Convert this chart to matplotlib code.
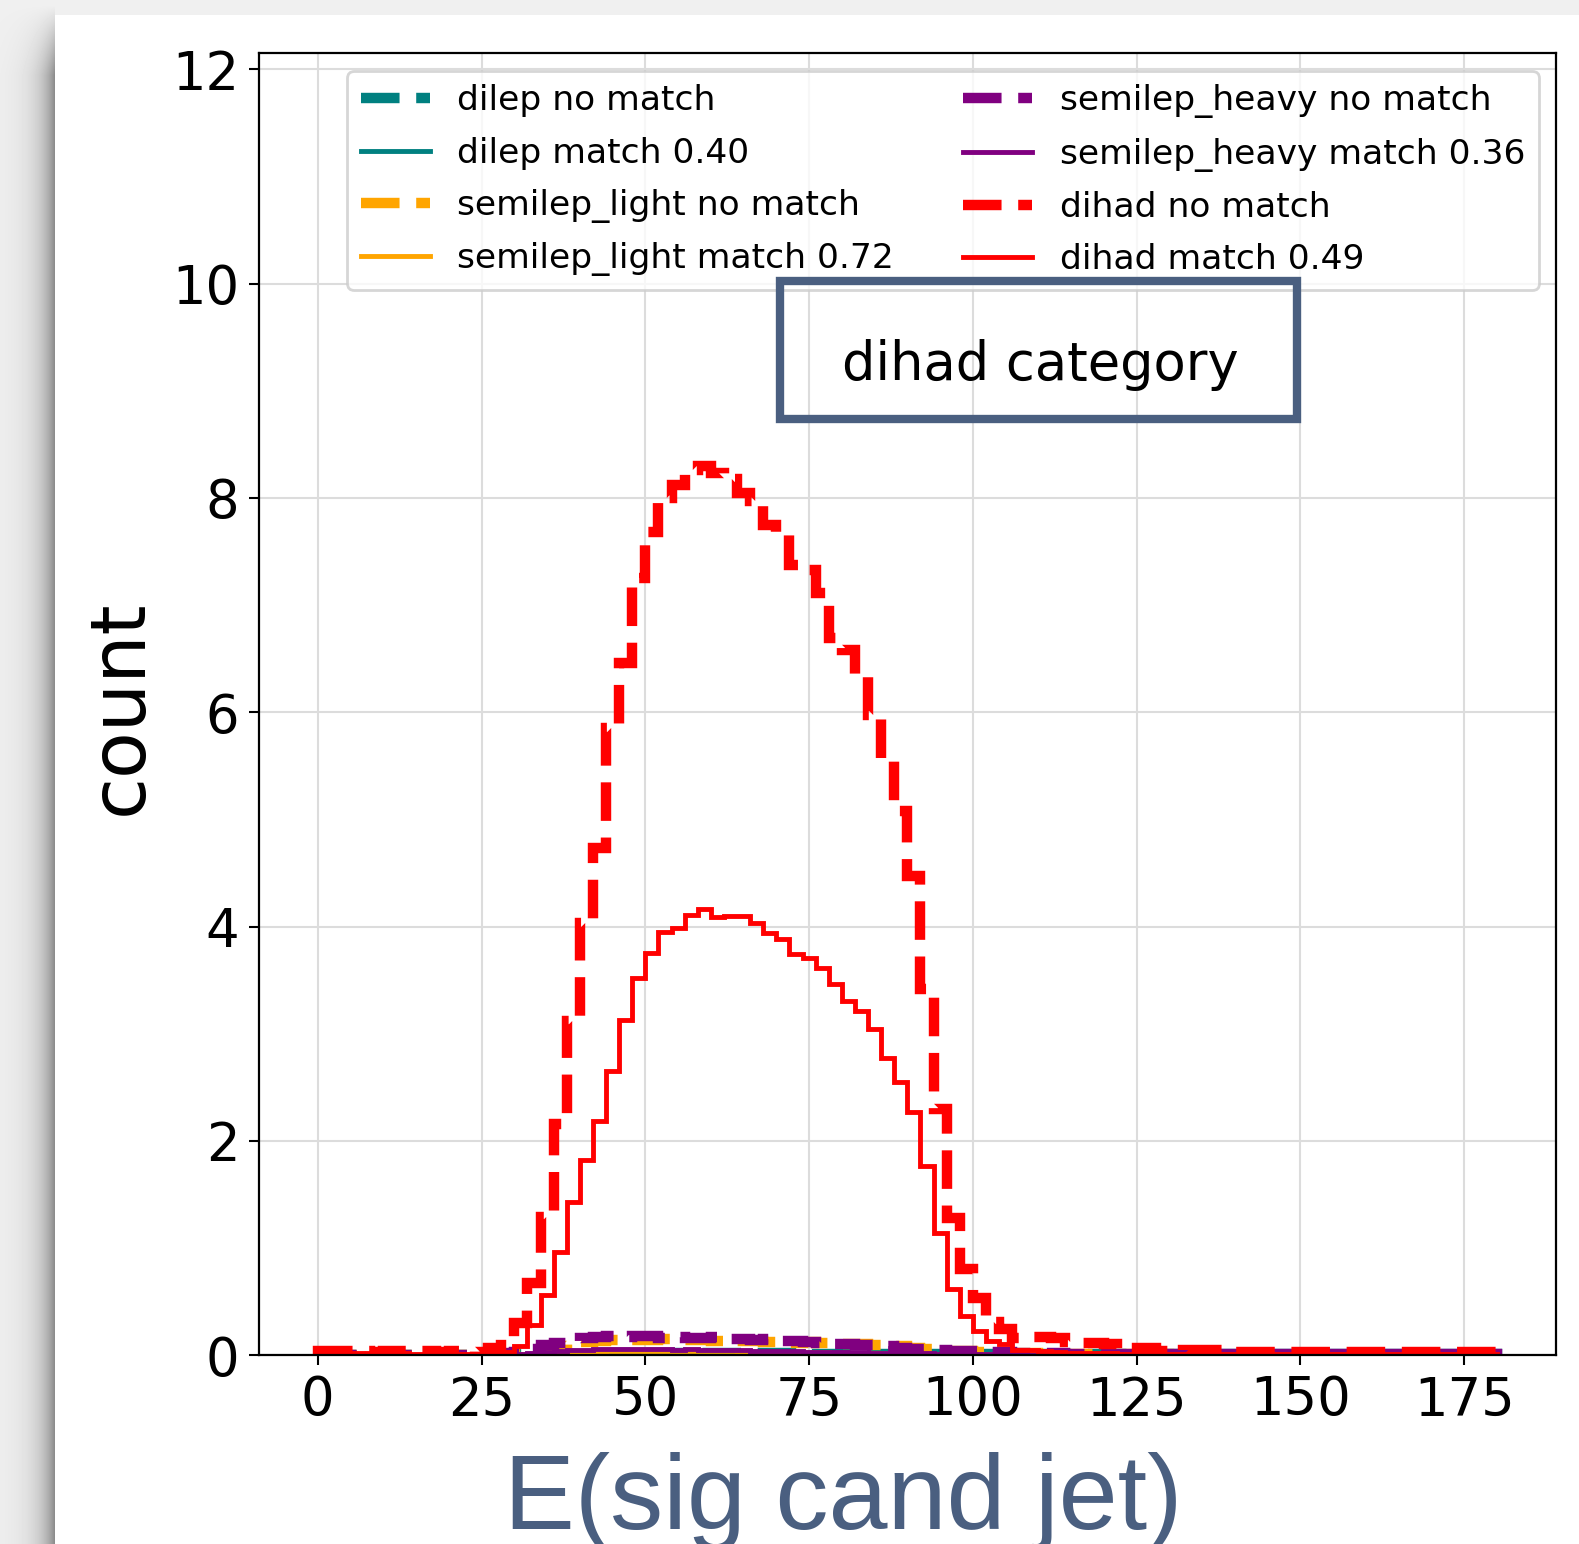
import numpy as np
import matplotlib
matplotlib.use("Agg")
import matplotlib.pyplot as plt
from matplotlib.patches import Rectangle

# ---------------- data ----------------
bin_edges = np.arange(0, 182, 2)  # 90 bins of width 2 from 0 to 180

dihad_nomatch = [
    0.04, 0.04, 0.04, 0.04, 0.03, 0.04, 0.04, 0.04, 0.04, 0.03,
    0.04, 0.04, 0.03, 0.07, 0.16, 0.30, 0.67, 1.29, 2.16, 3.12,
    4.03, 4.73, 5.85, 6.46, 7.25, 7.68, 8.00, 8.12, 8.26, 8.30,
    8.23, 8.18, 8.05, 7.97, 7.75, 7.68, 7.37, 7.33, 7.11, 6.69,
    6.58, 6.36, 5.97, 5.57, 5.08, 4.47, 3.42, 2.30, 1.28, 0.80,
    0.53, 0.31, 0.24, 0.16, 0.17, 0.17, 0.16, 0.12, 0.11, 0.11,
    0.10, 0.06, 0.07, 0.07, 0.04, 0.04, 0.05, 0.05, 0.05, 0.05,
    0.03, 0.03, 0.03, 0.03, 0.03, 0.03, 0.03, 0.03, 0.03, 0.03,
    0.03, 0.03, 0.03, 0.03, 0.03, 0.03, 0.03, 0.03, 0.03, 0.03,
]
dihad_match = [
    0.02, 0.02, 0.02, 0.02, 0.01, 0.02, 0.02, 0.01, 0.01, 0.01,
    0.01, 0.01, 0.01, 0.02, 0.03, 0.08, 0.28, 0.56, 0.96, 1.43,
    1.82, 2.18, 2.65, 3.13, 3.52, 3.75, 3.95, 3.99, 4.11, 4.16,
    4.09, 4.10, 4.10, 4.03, 3.94, 3.88, 3.74, 3.71, 3.61, 3.46,
    3.30, 3.21, 3.04, 2.77, 2.55, 2.27, 1.76, 1.14, 0.62, 0.36,
    0.22, 0.13, 0.10, 0.05, 0.05, 0.04, 0.03, 0.02, 0.02, 0.02,
    0.02, 0.01, 0.01, 0.01, 0.01, 0.01, 0.01, 0.01, 0.01, 0.01,
    0.01, 0.01, 0.01, 0.01, 0.01, 0.01, 0.01, 0.01, 0.01, 0.01,
    0.01, 0.01, 0.01, 0.01, 0.01, 0.01, 0.01, 0.01, 0.01, 0.01,
]
semilep_heavy_nomatch = [
    0.00, 0.00, 0.00, 0.00, 0.00, 0.00, 0.00, 0.00, 0.00, 0.00,
    0.00, 0.00, 0.00, 0.01, 0.02, 0.03, 0.06, 0.09, 0.11, 0.12,
    0.16, 0.17, 0.18, 0.17, 0.18, 0.18, 0.16, 0.17, 0.16, 0.16,
    0.17, 0.15, 0.15, 0.14, 0.15, 0.13, 0.13, 0.12, 0.11, 0.10,
    0.10, 0.09, 0.09, 0.08, 0.07, 0.06, 0.06, 0.05, 0.04, 0.04,
    0.04, 0.03, 0.03, 0.02, 0.02, 0.02, 0.02, 0.01, 0.01, 0.01,
    0.01, 0.01, 0.01, 0.01, 0.01, 0.01, 0.01, 0.01, 0.01, 0.01,
    0.01, 0.01, 0.01, 0.01, 0.01, 0.01, 0.01, 0.01, 0.01, 0.01,
    0.01, 0.01, 0.01, 0.01, 0.01, 0.01, 0.01, 0.01, 0.01, 0.01,
]
semilep_heavy_match = [
    0.00, 0.00, 0.00, 0.00, 0.00, 0.00, 0.00, 0.00, 0.00, 0.00,
    0.00, 0.00, 0.00, 0.00, 0.01, 0.01, 0.02, 0.03, 0.04, 0.05,
    0.05, 0.06, 0.06, 0.06, 0.06, 0.06, 0.06, 0.05, 0.06, 0.05,
    0.05, 0.05, 0.05, 0.04, 0.04, 0.04, 0.04, 0.03, 0.03, 0.03,
    0.03, 0.03, 0.02, 0.02, 0.02, 0.02, 0.02, 0.01, 0.01, 0.01,
    0.01, 0.01, 0.01, 0.01, 0.00, 0.00, 0.00, 0.00, 0.00, 0.00,
    0.00, 0.00, 0.00, 0.00, 0.00, 0.00, 0.00, 0.00, 0.00, 0.00,
    0.00, 0.00, 0.00, 0.00, 0.00, 0.00, 0.00, 0.00, 0.00, 0.00,
    0.00, 0.00, 0.00, 0.00, 0.00, 0.00, 0.00, 0.00, 0.00, 0.00,
]
semilep_light_nomatch = [
    0.00, 0.00, 0.00, 0.00, 0.00, 0.00, 0.00, 0.00, 0.00, 0.00,
    0.00, 0.00, 0.00, 0.00, 0.01, 0.02, 0.04, 0.06, 0.08, 0.10,
    0.12, 0.13, 0.14, 0.15, 0.14, 0.14, 0.15, 0.14, 0.14, 0.14,
    0.13, 0.14, 0.13, 0.13, 0.12, 0.12, 0.11, 0.12, 0.11, 0.10,
    0.10, 0.10, 0.09, 0.09, 0.08, 0.07, 0.06, 0.05, 0.04, 0.04,
    0.03, 0.03, 0.02, 0.02, 0.02, 0.01, 0.01, 0.01, 0.01, 0.01,
    0.01, 0.01, 0.01, 0.01, 0.01, 0.00, 0.00, 0.00, 0.00, 0.00,
    0.00, 0.00, 0.00, 0.00, 0.00, 0.00, 0.00, 0.00, 0.00, 0.00,
    0.00, 0.00, 0.00, 0.00, 0.00, 0.00, 0.00, 0.00, 0.00, 0.00,
]
semilep_light_match = [
    0.00, 0.00, 0.00, 0.00, 0.00, 0.00, 0.00, 0.00, 0.00, 0.00,
    0.00, 0.00, 0.00, 0.00, 0.00, 0.01, 0.01, 0.02, 0.02, 0.03,
    0.03, 0.03, 0.04, 0.04, 0.04, 0.04, 0.04, 0.04, 0.04, 0.04,
    0.04, 0.04, 0.03, 0.03, 0.03, 0.03, 0.03, 0.03, 0.03, 0.02,
    0.02, 0.02, 0.02, 0.02, 0.02, 0.01, 0.01, 0.01, 0.01, 0.01,
    0.01, 0.01, 0.00, 0.00, 0.00, 0.00, 0.00, 0.00, 0.00, 0.00,
    0.00, 0.00, 0.00, 0.00, 0.00, 0.00, 0.00, 0.00, 0.00, 0.00,
    0.00, 0.00, 0.00, 0.00, 0.00, 0.00, 0.00, 0.00, 0.00, 0.00,
    0.00, 0.00, 0.00, 0.00, 0.00, 0.00, 0.00, 0.00, 0.00, 0.00,
]
dilep_nomatch = [
    0.00, 0.00, 0.00, 0.00, 0.00, 0.00, 0.00, 0.00, 0.00, 0.00,
    0.00, 0.00, 0.00, 0.00, 0.00, 0.01, 0.01, 0.01, 0.01, 0.01,
    0.01, 0.01, 0.02, 0.02, 0.02, 0.02, 0.02, 0.02, 0.02, 0.02,
    0.02, 0.02, 0.02, 0.02, 0.02, 0.02, 0.02, 0.01, 0.01, 0.01,
    0.01, 0.01, 0.01, 0.01, 0.01, 0.01, 0.01, 0.01, 0.01, 0.01,
    0.01, 0.01, 0.01, 0.01, 0.01, 0.01, 0.01, 0.01, 0.01, 0.01,
    0.01, 0.01, 0.01, 0.01, 0.01, 0.01, 0.01, 0.01, 0.01, 0.01,
    0.01, 0.01, 0.01, 0.01, 0.01, 0.01, 0.01, 0.01, 0.01, 0.01,
    0.01, 0.01, 0.01, 0.01, 0.01, 0.01, 0.01, 0.01, 0.01, 0.01,
]
dilep_match = [
    0.00, 0.00, 0.00, 0.00, 0.00, 0.00, 0.00, 0.00, 0.00, 0.00,
    0.00, 0.00, 0.00, 0.00, 0.00, 0.00, 0.00, 0.00, 0.00, 0.00,
    0.01, 0.01, 0.01, 0.01, 0.01, 0.01, 0.01, 0.01, 0.01, 0.01,
    0.01, 0.01, 0.01, 0.01, 0.01, 0.01, 0.01, 0.01, 0.01, 0.01,
    0.00, 0.00, 0.00, 0.00, 0.00, 0.00, 0.00, 0.00, 0.00, 0.00,
    0.00, 0.00, 0.00, 0.00, 0.00, 0.00, 0.00, 0.00, 0.00, 0.00,
    0.00, 0.00, 0.00, 0.00, 0.00, 0.00, 0.00, 0.00, 0.00, 0.00,
    0.00, 0.00, 0.00, 0.00, 0.00, 0.00, 0.00, 0.00, 0.00, 0.00,
    0.00, 0.00, 0.00, 0.00, 0.00, 0.00, 0.00, 0.00, 0.00, 0.00,
]

series = [
    ("dilep no match", dilep_nomatch, "teal", "--"),
    ("dilep match 0.40", dilep_match, "teal", "-"),
    ("semilep_light no match", semilep_light_nomatch, "orange", "--"),
    ("semilep_light match 0.72", semilep_light_match, "orange", "-"),
    ("semilep_heavy no match", semilep_heavy_nomatch, "purple", "--"),
    ("semilep_heavy match 0.36", semilep_heavy_match, "purple", "-"),
    ("dihad no match", dihad_nomatch, "red", "--"),
    ("dihad match 0.49", dihad_match, "red", "-"),
]

x_ticks = [0, 25, 50, 75, 100, 125, 150, 175]
y_ticks = [0, 2, 4, 6, 8, 10, 12]

# ---------------- figure ----------------
W, H = 1579, 1544
fig = plt.figure(figsize=(W / 100, H / 100), dpi=100)
fig.patch.set_facecolor("#efefef")

# screenshot-like card background with left drop shadow
bg = fig.add_axes([0, 0, 1, 1], zorder=-10)
xx = np.arange(W)[None, :].astype(float)
yy = np.arange(H)[:, None].astype(float)
card_x, card_y = 55.0, 15.0
img = np.full((H, W), 0.94)
dx = np.clip(card_x - xx, 0, None)
shadow = 0.42 * np.exp(-dx / 15.0) * (xx < card_x)
vert = np.clip((yy - card_y + 10) / 70.0, 0, 1)
img = img - shadow * vert
card = (xx >= card_x) & (yy >= card_y)
img = np.where(card, 1.0, img)
bg.imshow(img, cmap="gray", vmin=0, vmax=1, aspect="auto",
          interpolation="bilinear", extent=[0, W, H, 0])
bg.set_xlim(0, W)
bg.set_ylim(H, 0)
bg.axis("off")

ax = fig.add_axes([0.1639, 0.1224, 0.8215, 0.8430])
ax.set_facecolor("white")

for label, vals, color, ls in series:
    lw = 7.5 if ls == "--" else 3.5
    ax.stairs(vals, bin_edges, color=color, linestyle=ls, linewidth=lw,
              label=label, baseline=0)

ax.set_xlim(-9, 189)
ax.set_ylim(0, 12.15)
ax.set_xticks(x_ticks)
ax.set_yticks(y_ticks)
ax.tick_params(axis="both", labelsize=38, length=7, width=1.5, pad=7)
for s in ax.spines.values():
    s.set_linewidth(1.6)
ax.grid(True, color="#dcdcdc", linewidth=1.5)
ax.set_axisbelow(True)

leg = ax.legend(loc="upper right", ncol=2, fontsize=24.8, labelspacing=0.56,
                handlelength=2.0, handletextpad=0.8, columnspacing=2.0,
                borderaxespad=0.5, borderpad=0.4, framealpha=0.8,
                edgecolor="#cccccc")
leg.get_frame().set_linewidth(2)

# category annotation
ax.text(110.35, 9.105, "dihad category", fontsize=38, ha="center",
        va="baseline", zorder=10)
box = Rectangle((0.4937, 0.7288), 0.3276, 0.0891, transform=fig.transFigure,
                fill=False, edgecolor="#4a5f80", linewidth=6, zorder=20)
fig.add_artist(box)

# axis labels
fig.text(121 / W, 0.5418, "count", rotation=90, fontsize=55,
         ha="center", va="center")
fig.text(843 / W, 1 - 1528.6 / H, "E(sig cand jet)", fontsize=76.4,
         family="Liberation Sans", color="#4a5f80", ha="center",
         va="baseline")

fig.savefig("out.png", dpi=100)
